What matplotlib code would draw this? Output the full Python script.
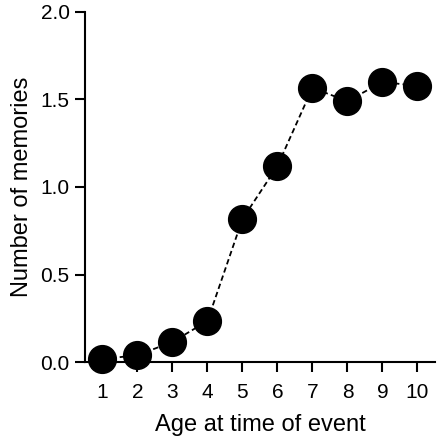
import matplotlib
matplotlib.use("Agg")
import matplotlib.pyplot as plt

plt.rcParams['font.family'] = ['Liberation Sans', 'DejaVu Sans']

ages = [1, 2, 3, 4, 5, 6, 7, 8, 9, 10]
memories = [0.017, 0.04, 0.115, 0.235, 0.817, 1.12, 1.566, 1.49, 1.60, 1.577]
yticks = [0.0, 0.5, 1.0, 1.5, 2.0]

fig = plt.figure(figsize=(4.38, 4.40), dpi=100)
ax = fig.add_axes([0.194, 0.177, 0.799, 0.796])

ax.plot(ages, memories, linestyle='--', color='black', linewidth=1.3,
        dashes=(3, 1.8), marker='o', markersize=20, markerfacecolor='black',
        markeredgecolor='black', clip_on=False, zorder=3)

ax.set_xlim(0.5, 10.5)
ax.set_ylim(0, 2.0)
ax.set_xticks(ages)
ax.set_yticks(yticks)
ax.set_yticklabels([f"{v:.1f}" for v in yticks])

for side in ['top', 'right']:
    ax.spines[side].set_visible(False)
for side in ['left', 'bottom']:
    ax.spines[side].set_linewidth(1.5)
ax.tick_params(axis='both', length=7, width=1.5, labelsize=15)
ax.tick_params(axis='x', pad=8)
ax.tick_params(axis='y', pad=4)

ax.set_xlabel('Age at time of event', fontsize=17, labelpad=9)
ax.set_ylabel('Number of memories', fontsize=17, labelpad=5)

fig.savefig('out.png', dpi=100)
